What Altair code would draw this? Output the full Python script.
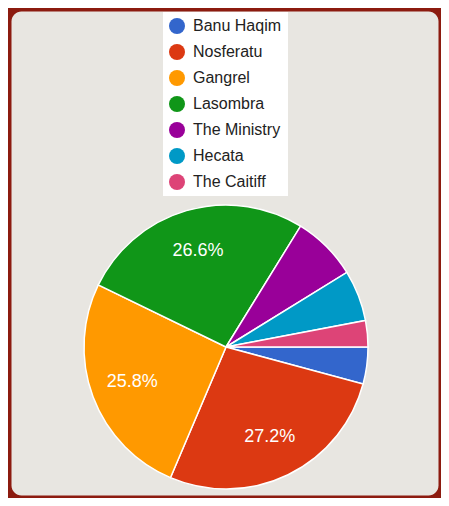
import math

import altair as alt
import pandas as pd

clans = ["Banu Haqim", "Nosferatu", "Gangrel", "Lasombra", "The Ministry", "Hecata", "The Caitiff"]
shares = [4.2, 27.2, 25.8, 26.6, 7.4, 5.8, 3.0]
colors = ["#3366cc", "#dc3912", "#ff9900", "#109618", "#990099", "#0099c6", "#dd4477"]

df = pd.DataFrame({"clan": clans, "share": shares, "idx": list(range(len(clans)))})

FONT = "Arial, Liberation Sans, sans-serif"
CX, CY, R = 215, 336, 142

base = alt.Chart(df).encode(
    theta=alt.Theta(
        "share:Q",
        stack=True,
        scale=alt.Scale(range=[math.pi / 2, math.pi / 2 + 2 * math.pi]),
    ),
    order=alt.Order("idx:Q"),
)

pie = base.mark_arc(outerRadius=R, stroke="white", strokeWidth=1.5).encode(
    x=alt.value(CX),
    y=alt.value(CY),
    color=alt.Color(
        "clan:N",
        sort=clans,
        scale=alt.Scale(domain=clans, range=colors),
        legend=alt.Legend(
            title=None,
            orient="none",
            legendX=152,
            legendY=1,
            fillColor="white",
            padding=6,
            symbolType="circle",
            symbolSize=256,
            symbolStrokeWidth=0,
            labelFontSize=16,
            labelFont=FONT,
            labelColor="#222222",
            labelOffset=8,
            rowPadding=10,
        ),
    ),
)

labels = (
    base.transform_calculate(
        label="datum.share > 10 ? format(datum.share, '.1f') + '%' : ''"
    )
    .mark_text(radius=100, fontSize=18, font=FONT, color="white")
    .encode(x=alt.value(CX), y=alt.value(CY), text="label:N")
)

chart = (
    alt.layer(pie, labels)
    .properties(
        width=427,
        height=484,
        padding={"left": 3, "top": 3, "right": 3, "bottom": 3},
        autosize=alt.AutoSizeParams(type="none"),
        background="#8c1b0f",
    )
    .configure_view(fill="#e8e6e1", cornerRadius=10, stroke="transparent")
)

chart.save("out.html", embed_options={"renderer": "svg", "actions": False})
